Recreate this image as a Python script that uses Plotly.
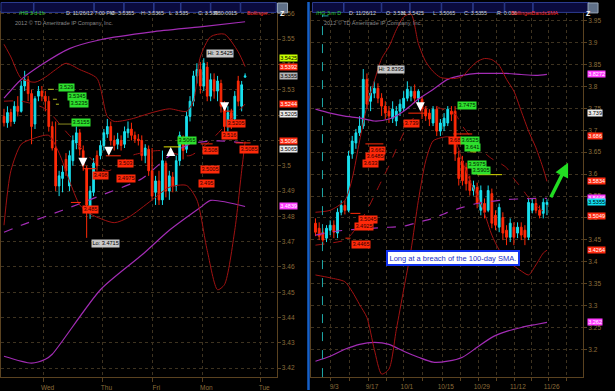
import plotly.graph_objects as go

W, H = 615, 391

# ---------------- data: left panel  (/HG 3 day, 1 hour bars) ----------------
l_open = [3.5195, 3.517, 3.521, 3.5175, 3.5235, 3.5215, 3.5315, 3.534, 3.5285, 3.5165,
          3.5275, 3.5295, 3.5275, 3.5255, 3.5155, 3.507, 3.492, 3.495, 3.5025, 3.492,
          3.502, 3.509, 3.513, 3.506, 3.499, 3.4825, 3.4895, 3.504, 3.504, 3.508,
          3.5125, 3.5155, 3.510, 3.5085, 3.510, 3.5085, 3.513, 3.5145, 3.512, 3.5105,
          3.510, 3.504, 3.5065, 3.498, 3.4895, 3.494, 3.4865, 3.501, 3.490, 3.4955,
          3.492, 3.502, 3.510, 3.5065, 3.5195, 3.5255, 3.5355, 3.538, 3.5315, 3.539,
          3.5275, 3.534, 3.5295, 3.5325, 3.5235, 3.5155, 3.521, 3.5185, 3.5335, 3.5235,
          3.535]
l_high = [3.5225, 3.5235, 3.5225, 3.5255, 3.5275, 3.5335, 3.5375, 3.5355, 3.530, 3.5275,
          3.5315, 3.5315, 3.5295, 3.5275, 3.5175, 3.5175, 3.498, 3.500, 3.505, 3.506,
          3.512, 3.5155, 3.5145, 3.508, 3.500, 3.492, 3.503, 3.506, 3.510, 3.5145,
          3.5185, 3.5175, 3.512, 3.513, 3.512, 3.5155, 3.5175, 3.517, 3.5135, 3.5125,
          3.512, 3.5085, 3.508, 3.507, 3.496, 3.498, 3.506, 3.502, 3.498, 3.4975,
          3.504, 3.5135, 3.512, 3.5215, 3.5275, 3.5375, 3.5405, 3.541, 3.5425, 3.541,
          3.5365, 3.5365, 3.5355, 3.534, 3.5255, 3.5235, 3.5225, 3.5295, 3.5355, 3.5335,
          3.5365]
l_low = [3.5155, 3.515, 3.5155, 3.5165, 3.5195, 3.521, 3.5295, 3.5255, 3.5085, 3.5145,
         3.5255, 3.5255, 3.5215, 3.5135, 3.506, 3.490, 3.488, 3.4895, 3.496, 3.490,
         3.500, 3.5065, 3.504, 3.498, 3.4715, 3.479, 3.488, 3.498, 3.5025, 3.506,
         3.511, 3.508, 3.506, 3.5065, 3.506, 3.507, 3.511, 3.510, 3.509, 3.508,
         3.502, 3.501, 3.496, 3.4865, 3.4845, 3.4845, 3.4845, 3.4875, 3.4865, 3.4895,
         3.490, 3.500, 3.5025, 3.505, 3.5175, 3.5235, 3.5325, 3.5285, 3.5295, 3.5255,
         3.5255, 3.5265, 3.5255, 3.521, 3.512, 3.5135, 3.5145, 3.517, 3.5235, 3.5215,
         3.535]
l_close = [3.517, 3.521, 3.5175, 3.5235, 3.5215, 3.5315, 3.534, 3.5285, 3.5155, 3.5265,
           3.5295, 3.5275, 3.5255, 3.5155, 3.507, 3.492, 3.496, 3.4975, 3.498, 3.504,
           3.510, 3.513, 3.5065, 3.500, 3.4845, 3.490, 3.501, 3.500, 3.508, 3.513,
           3.5155, 3.510, 3.508, 3.5105, 3.508, 3.5135, 3.5145, 3.512, 3.5105, 3.510,
           3.504, 3.507, 3.498, 3.488, 3.494, 3.4865, 3.502, 3.490, 3.496, 3.492,
           3.502, 3.512, 3.506, 3.5195, 3.5255, 3.5355, 3.538, 3.5315, 3.5405, 3.5275,
           3.534, 3.5295, 3.5335, 3.5235, 3.5155, 3.521, 3.5175, 3.5275, 3.5255, 3.532,
           3.5355]
l_bar = list(range(len(l_open)))

l_bb_up_x = [0, 2, 5, 9, 12, 15, 18, 22, 27, 30, 32, 37, 43, 48, 53, 55, 57, 60, 64, 68, 70]
l_bb_up = [3.548, 3.543, 3.5345, 3.533, 3.535, 3.538, 3.5405, 3.538, 3.5345, 3.5195, 3.5175,
           3.5185, 3.521, 3.5225, 3.5215, 3.5255, 3.543, 3.551, 3.552, 3.545, 3.5392]
l_bb_mid_x = [0, 5, 12, 19, 30, 37, 45, 54, 60, 66, 70]
l_bb_mid = [3.5255, 3.5255, 3.5225, 3.512, 3.498, 3.504, 3.506, 3.504, 3.510, 3.5185, 3.5244]
l_bb_lo_x = [0, 2, 5, 8, 13, 16, 19, 22, 25, 32, 36, 43, 48, 53, 56, 59, 62, 64, 67, 69, 70]
l_bb_lo = [3.4765, 3.498, 3.5085, 3.5105, 3.512, 3.505, 3.494, 3.4845, 3.481, 3.4775, 3.4795,
           3.4865, 3.4915, 3.4922, 3.4865, 3.4665, 3.451, 3.453, 3.4745, 3.498, 3.5096]
l_pb_up_x = [0, 5, 11, 19, 28, 43, 57, 70]
l_pb_up = [3.5267, 3.5341, 3.540, 3.5463, 3.5498, 3.5529, 3.5549, 3.5569]
l_pb_mid_x = [0, 5, 17, 28, 40, 48, 54, 62, 70]
l_pb_mid = [3.4737, 3.4765, 3.4824, 3.4882, 3.4949, 3.5039, 3.5086, 3.5098, 3.509]
l_pb_lo_x = [0, 8, 12, 14, 28, 40, 48, 57, 60, 70]
l_pb_lo = [3.4247, 3.422, 3.4235, 3.4255, 3.451, 3.4647, 3.4745, 3.4835, 3.4863, 3.4839]

l_day_grid = [11.6, 28.7, 43.2, 57.7, 74.5]
l_day_labels = ["Wed", "Thu", "Fri", "Mon", "Tue"]
l_price_ticks = [3.42, 3.43, 3.44, 3.45, 3.46, 3.47, 3.48, 3.49, 3.5, 3.51, 3.52, 3.53,
                 3.54, 3.55, 3.56]
l_axis_tags = [3.5425, 3.5392, 3.5355, 3.5244, 3.5205, 3.5096, 3.5065, 3.4839]
l_axis_kind = ["lime", "red", "grey", "red", "white", "red", "white", "magenta"]

# ---------------- data: right panel  (/HG 3 month, daily bars) ----------------
r_open = [3.488, 3.4765, 3.4675, 3.454, 3.472, 3.4835, 3.4655, 3.513, 3.5285, 3.5175,
          3.646, 3.671, 3.694, 3.7095, 3.816, 3.766, 3.7845, 3.7955, 3.773, 3.755,
          3.7435, 3.7275, 3.721, 3.7435, 3.7505, 3.773, 3.7775, 3.789, 3.773, 3.7705,
          3.748, 3.739, 3.7165, 3.748, 3.698, 3.7095, 3.7165, 3.7435, 3.7435, 3.637,
          3.630, 3.6145, 3.585, 3.5625, 3.5695, 3.5175, 3.533, 3.5175, 3.5555, 3.506,
          3.479, 3.501, 3.472, 3.456, 3.479, 3.4655, 3.479, 3.472, 3.456, 3.5175,
          3.533, 3.5175, 3.5105, 3.531]
r_high = [3.499, 3.490, 3.4765, 3.4835, 3.4945, 3.4945, 3.522, 3.540, 3.540, 3.653,
          3.687, 3.703, 3.732, 3.8395, 3.8295, 3.800, 3.8115, 3.807, 3.7845, 3.766,
          3.755, 3.766, 3.755, 3.7705, 3.789, 3.8115, 3.800, 3.8045, 3.7935, 3.7775,
          3.755, 3.748, 3.755, 3.755, 3.7255, 3.739, 3.755, 3.755, 3.755, 3.653,
          3.6415, 3.626, 3.5965, 3.585, 3.5805, 3.574, 3.5445, 3.574, 3.567, 3.5175,
          3.533, 3.513, 3.4835, 3.499, 3.490, 3.490, 3.490, 3.4835, 3.5445, 3.5445,
          3.5445, 3.5285, 3.5445, 3.5425]
r_low = [3.4585, 3.4495, 3.438, 3.445, 3.461, 3.454, 3.454, 3.506, 3.508, 3.513,
         3.635, 3.6575, 3.687, 3.703, 3.748, 3.7435, 3.773, 3.7615, 3.7325, 3.7255,
         3.7165, 3.7165, 3.7095, 3.7325, 3.7435, 3.766, 3.766, 3.7615, 3.755, 3.7255,
         3.721, 3.7095, 3.7095, 3.687, 3.687, 3.698, 3.7095, 3.721, 3.630, 3.574,
         3.574, 3.5625, 3.551, 3.551, 3.522, 3.506, 3.499, 3.513, 3.4765, 3.472,
         3.4675, 3.4495, 3.438, 3.445, 3.438, 3.454, 3.4495, 3.438, 3.4495, 3.5105,
         3.5105, 3.499, 3.499, 3.5065]
r_close = [3.4675, 3.4585, 3.4495, 3.4765, 3.4835, 3.4675, 3.513, 3.5285, 3.5175, 3.6415,
           3.6755, 3.694, 3.7095, 3.816, 3.7595, 3.7845, 3.7955, 3.773, 3.755, 3.739,
           3.7325, 3.748, 3.7435, 3.7595, 3.773, 3.7935, 3.789, 3.773, 3.789, 3.748,
           3.7325, 3.7255, 3.748, 3.698, 3.7165, 3.7275, 3.748, 3.7365, 3.646, 3.590,
           3.585, 3.578, 3.5625, 3.574, 3.533, 3.5625, 3.513, 3.5625, 3.488, 3.4835,
           3.524, 3.4655, 3.456, 3.488, 3.456, 3.479, 3.461, 3.456, 3.5355, 3.533,
           3.5175, 3.506, 3.5355, 3.5355]
r_bar = list(range(len(r_open)))

r_bb_x = [0, 4, 8, 10, 12, 14, 16, 18, 20, 22, 24, 26, 28, 30, 32, 34, 36, 38, 40, 42,
          44, 46, 48, 50, 52, 54, 56, 58, 60, 62, 63]
r_bb_up = [3.513, 3.5175, 3.540, 3.590, 3.6755, 3.755, 3.8115, 3.8635, 3.8905, 3.929,
           3.9585, 3.965, 3.8975, 3.8565, 3.834, 3.8205, 3.818, 3.818, 3.8225, 3.841,
           3.8565, 3.8635, 3.861, 3.8475, 3.816, 3.789, 3.7435, 3.698, 3.66, 3.612, 3.5834]
r_bb_mid = [3.438, 3.4425, 3.4495, 3.465, 3.490, 3.517, 3.551, 3.585, 3.619, 3.6575,
            3.694, 3.721, 3.739, 3.7525, 3.757, 3.750, 3.7435, 3.737, 3.7095, 3.687,
            3.6645, 3.6485, 3.635, 3.626, 3.6145, 3.5895, 3.569, 3.5465, 3.5285, 3.515, 3.5049]
r_bb_lo = [3.370, 3.3635, 3.3545, 3.332, 3.3025, 3.273, 3.2005, 3.144, 3.1555, 3.2455,
           3.3365, 3.4268, 3.540, 3.630, 3.6755, 3.6825, 3.685, 3.6755, 3.630, 3.585,
           3.551, 3.5105, 3.461, 3.427, 3.404, 3.3905, 3.379, 3.370, 3.393, 3.420, 3.4264]
r_pb_x = [0, 4, 8, 12, 16, 20, 24, 28, 32, 36, 40, 44, 48, 52, 56, 60, 63]
r_pb_up = [3.748, 3.739, 3.732, 3.728, 3.721, 3.7255, 3.7435, 3.771, 3.793, 3.816,
           3.825, 3.8295, 3.8295, 3.8295, 3.827, 3.825, 3.8272]
r_pb_mid = [3.4608, 3.4675, 3.4721, 3.4743, 3.4766, 3.4788, 3.4811, 3.4902, 3.4992, 3.5128,
            3.524, 3.533, 3.5377, 3.5422, 3.5434, 3.5446, 3.5446]
r_pb_lo = [3.1734, 3.1847, 3.2005, 3.2119, 3.2164, 3.2119, 3.196, 3.1824, 3.1711, 3.1734,
           3.1824, 3.2051, 3.2277, 3.2413, 3.2503, 3.2571, 3.262]

r_week_grid = [4.1, 14.4, 23.9, 34.5, 44.3, 54.1, 63.3]
r_week_labels = ["9/3", "9/17", "10/1", "10/15", "10/29", "11/12", "11/26"]
r_minor_grid = [9.2, 19.2, 29.2, 39.4, 49.2, 58.7, 68.3]
r_price_ticks = [3.2, 3.25, 3.3, 3.35, 3.4, 3.45, 3.5, 3.55, 3.6, 3.65, 3.7, 3.75, 3.8,
                 3.85, 3.9, 3.95]
r_axis_tags = [3.8272, 3.739, 3.686, 3.5834, 3.5446, 3.5355, 3.5049, 3.4264, 3.262]
r_axis_kind = ["magenta", "white", "red", "red", "magenta", "cyan", "red", "red", "magenta"]

left_header = ["/HG 3 d 1h", "D: 11/26/12 7:00 PM", "O: 3.5355", "H: 3.5365", "L: 3.535",
               "C: 3.5355", "R: 0.0015", "Bollinger.."]
right_header = ["/HG 3 m D", "D: 11/26/12", "O: 3.531", "H: 3.5425", "L: 3.5065",
                "C: 3.5355", "R: 0.036", "BollingerBandsSMA"]

# ---------------- styling ----------------
FONT = "Liberation Sans, Arial, sans-serif"
FRAME = "#5a4220"
GRID = "#3e3320"
TICK = "#8c6d3a"
UP = "#18e0ee"
DOWN = "#ff2a08"
BB_RED = "#a01212"
PURPLE = "#a22cb4"
TAGBG = {"lime": "#c8ff00", "red": "#ff2a10", "grey": "#b4b4b4", "white": "#ececec",
         "magenta": "#ff3cff", "cyan": "#10e0f0"}
TAGFG = {"lime": "#000000", "red": "#ffffff", "grey": "#000000", "white": "#000000",
         "magenta": "#ffffff", "cyan": "#000000"}
NB = "\u00a0"


def fx(px):
    return px / W


def fy(py):
    return 1 - py / H


# layout geometry (pixels)
L_LEFT, L_RIGHT = 0, 276
R_LEFT, R_RIGHT = 311, 583
P_TOP, P_BOT = 10, 378
L_X0, L_DX = 3.0, 3.45
R_X0, R_DX = 315.0, 3.68
L_V0, L_Y0, L_K = 3.56, 12.0, 2550.0
R_V0, R_Y0, R_K = 3.8272, 73.0, 442.0

fig = go.Figure()


def band(x, y, color, dash, xa, ya, width=1):
    fig.add_trace(go.Scatter(x=x, y=y, mode="lines", xaxis=xa, yaxis=ya, hoverinfo="skip",
                             line=dict(color=color, width=width, dash=dash,
                                       shape="spline", smoothing=0.7)))


band(l_pb_up_x, l_pb_up, PURPLE, "solid", "x", "y", 1.2)
band(l_pb_mid_x, l_pb_mid, PURPLE, "dash", "x", "y", 1.2)
band(l_pb_lo_x, l_pb_lo, PURPLE, "solid", "x", "y", 1.2)
band(l_bb_up_x, l_bb_up, BB_RED, "solid", "x", "y")
band(l_bb_mid_x, l_bb_mid, BB_RED, "dash", "x", "y")
band(l_bb_lo_x, l_bb_lo, BB_RED, "solid", "x", "y")

band(r_pb_x, r_pb_up, PURPLE, "solid", "x2", "y2", 1.2)
band(r_pb_x, r_pb_mid, PURPLE, "dash", "x2", "y2", 1.2)
band(r_pb_x, r_pb_lo, PURPLE, "solid", "x2", "y2", 1.2)
band(r_bb_x, r_bb_up, BB_RED, "solid", "x2", "y2")
band(r_bb_x, r_bb_mid, BB_RED, "dash", "x2", "y2")
band(r_bb_x, r_bb_lo, BB_RED, "solid", "x2", "y2")

for (xv, o, h, l, c, xa, ya) in [(l_bar, l_open, l_high, l_low, l_close, "x", "y"),
                                 (r_bar, r_open, r_high, r_low, r_close, "x2", "y2")]:
    fig.add_trace(go.Candlestick(
        x=xv, open=o, high=h, low=l, close=c, xaxis=xa, yaxis=ya, hoverinfo="skip",
        whiskerwidth=0,
        increasing=dict(line=dict(color=UP, width=1), fillcolor=UP),
        decreasing=dict(line=dict(color=DOWN, width=1), fillcolor=DOWN)))

shapes = []
annotations = []

# separator between panels
shapes.append(dict(type="line", xref="paper", yref="paper", x0=fx(308), x1=fx(308), y0=0, y1=1,
                   line=dict(color="#1660c8", width=2.5)))
# cyan dashed event marker (right panel)
shapes.append(dict(type="line", xref="paper", yref="paper", x0=fx(322), x1=fx(322),
                   y0=fy(P_BOT), y1=fy(13), line=dict(color="#1ea8a8", width=1, dash="dash")))
shapes.append(dict(type="line", xref="paper", yref="paper", x0=fx(322), x1=fx(328),
                   y0=fy(14), y1=fy(14), line=dict(color="#1ea8a8", width=1)))


def header(items, start, cw, pad, colors):
    x = start
    for t, col in zip(items, colors):
        w = len(t) * cw + pad
        shapes.append(dict(type="rect", xref="paper", yref="paper", x0=fx(x), x1=fx(x + w),
                           y0=fy(10.5), y1=fy(0.5), fillcolor="#0b0b3e",
                           line=dict(color="#2c3c90", width=1)))
        annotations.append(dict(x=fx(x + w / 2), y=fy(5.8), xref="paper", yref="paper", text=t,
                                showarrow=False, font=dict(size=5.3, color=col, family=FONT)))
        x += w + 0.5


hcols = ["#2fd02f"] + ["#cfcfcf"] * 6 + ["#ff2c2c"]
header(left_header, 0, 3.05, 2, hcols)
header(right_header, 312, 3.12, 3, hcols)

for zx in (277, 588):
    shapes.append(dict(type="rect", xref="paper", yref="paper", x0=fx(zx), x1=fx(zx + 10),
                       y0=fy(11), y1=fy(1), fillcolor="#5f7088", line=dict(color="#9aa8b8", width=1)))
    annotations.append(dict(x=fx(zx + 5), y=fy(6), xref="paper", yref="paper", text="<b>Z</b>",
                            showarrow=False, font=dict(size=7, color="#ffffff", family=FONT)))

for cx in (12, 322):
    annotations.append(dict(x=fx(cx), y=fy(16), xref="paper", yref="paper", xanchor="left",
                            text="2012 © TD Ameritrade IP Company, Inc.", showarrow=False,
                            font=dict(size=5.5, color="#8a8a8a", family=FONT)))

# price tags on the axes
for v, k in zip(l_axis_tags, l_axis_kind):
    annotations.append(dict(x=fx(278), y=v, xref="paper", yref="y", xanchor="left", text=f"{v:g}",
                            showarrow=False, bgcolor=TAGBG[k], borderpad=0.2,
                            font=dict(size=5.5, color=TAGFG[k], family=FONT)))
for v, k in zip(r_axis_tags, r_axis_kind):
    annotations.append(dict(x=fx(587), y=v, xref="paper", yref="y2", xanchor="left", text=f"{v:g}",
                            showarrow=False, bgcolor=TAGBG[k], borderpad=0.2,
                            font=dict(size=5.5, color=TAGFG[k], family=FONT)))


def tag(px, py, text, kind):
    bg = {"g": "#2ee02e", "r": "#ff2a0a", "h": "#c8c8c8"}[kind]
    fg = {"g": "#002000", "r": "#300000", "h": "#000000"}[kind]
    annotations.append(dict(x=fx(px), y=fy(py), xref="paper", yref="paper", text=text,
                            showarrow=False, bgcolor=bg, borderpad=0.4,
                            font=dict(size=5.6, color=fg, family=FONT)))


def seg(x0, x1, py, color):
    shapes.append(dict(type="line", xref="paper", yref="paper", x0=fx(x0), x1=fx(x1),
                       y0=fy(py), y1=fy(py), line=dict(color=color, width=1)))


# small level markers next to the signal tags
for (x0, x1, py, col) in [(47, 53, 88, "#b8c020"), (52, 56, 98, "#b8c020"), (55, 58, 103, "#b8c020"),
                          (57, 71, 123, "#8a8a20"), (163, 180, 146, "#e0e000"),
                          (82, 95, 168, DOWN), (70, 80, 202, DOWN), (105, 120, 155, DOWN),
                          (200, 212, 143, DOWN), (235, 250, 142, DOWN), (222, 233, 110, DOWN),
                          (365, 383, 143, DOWN), (408, 427, 112, DOWN), (350, 360, 213, DOWN),
                          (345, 350, 238, DOWN), (453, 472, 133, DOWN),
                          (465, 472, 107, "#d8d800"), (470, 476, 151, "#d8d800"),
                          (477, 502, 174, "#d8d800")]:
    seg(x0, x1, py, col)

for (px, py, t, k) in [(57.5, 82, "3.529", "g"), (66, 91, "3.5345", "g"), (68, 97.5, "3.5235", "g"),
                       (70.5, 117, "3.5155", "g"), (176.5, 140, "3.5065", "g"),
                       (116.5, 162.5, "3.503", "r"), (91, 175, "3.498", "r"), (115, 177.5, "3.4975", "r"),
                       (81.5, 209, "3.485", "r"), (235.5, 118, "3.5205", "r"), (229, 129.5, "3.516", "r"),
                       (209.5, 150, "3.508", "r"), (248, 149, "3.5085", "r"), (209.5, 169, "3.5005", "r"),
                       (205.5, 182.5, "3.495", "r"),
                       (219, 47, "Hi: 3.5425", "h"), (90, 243, "Lo: 3.4715", "h"),
                       (390.5, 63, "Hi: 3.8395", "h"),
                       (377, 149.5, "3.662", "r"), (375, 156, "3.6485", "r"), (370, 163, "3.633", "r"),
                       (367.5, 219, "3.5045", "r"), (363.5, 226, "3.4925", "r"),
                       (361, 244.5, "3.4465", "r"), (420, 118, "3.739", "r"), (461.5, 140, "3.68", "r"),
                       (476.5, 100, "3.7475", "g"), (479.5, 140, "3.6525", "g"),
                       (481, 146.5, "3.641", "g"), (487, 163.5, "3.5975", "g"), (490.5, 169.5, "3.5905", "g")]:
    tag(px, py, t, k)

# white signal arrows
for (px, py, up) in [(82, 166, False), (108, 155, False), (224, 110, False), (170, 146, True),
                     (420, 110, False)]:
    annotations.append(dict(x=fx(px), y=fy(py), xref="paper", yref="paper", text="", showarrow=True,
                            ax=0, ay=(9 if up else -9), arrowhead=2, arrowsize=0.9, arrowwidth=2,
                            arrowcolor="#ffffff"))

# green arrow + note
annotations.append(dict(x=fx(568), y=fy(162), xref="paper", yref="paper", text="", showarrow=True,
                        ax=-18, ay=36, arrowhead=2, arrowsize=0.8, arrowwidth=3.5,
                        arrowcolor="#22dd22"))
annotations.append(dict(x=fx(520), y=fy(266.5), xref="paper", yref="paper",
                        text="Long at a breach of the 100-day SMA.", showarrow=False,
                        bgcolor="#ffffff", bordercolor="#1434f0", borderwidth=2, borderpad=1.5,
                        font=dict(size=7.5, color="#1a30c8", family=FONT)))

axis_common = dict(showline=True, linecolor=FRAME, linewidth=1, mirror=True, zeroline=False,
                   fixedrange=True, tickcolor=FRAME, tickfont=dict(size=6.5, color=TICK, family=FONT),
                   gridcolor=GRID, griddash="dot", gridwidth=1)

ydom = [fy(P_BOT), fy(P_TOP)]
fig.update_layout(
    width=W, height=H, margin=dict(l=0, r=0, t=0, b=0),
    paper_bgcolor="#000000", plot_bgcolor="#000000", showlegend=False, hovermode=False,
    xaxis=dict(domain=[fx(L_LEFT), fx(L_RIGHT)], anchor="y",
               range=[(L_LEFT - L_X0) / L_DX, (L_RIGHT - L_X0) / L_DX],
               tickmode="array", tickvals=l_day_grid, ticktext=[NB * 4 + t for t in l_day_labels],
               showgrid=True, ticks="outside", ticklen=4, rangeslider=dict(visible=False),
               **axis_common),
    yaxis=dict(domain=ydom, anchor="x", side="right",
               range=[L_V0 - (P_BOT - L_Y0) / L_K, L_V0 + (L_Y0 - P_TOP) / L_K],
               tickmode="array", tickvals=l_price_ticks, ticktext=[f"{v:g}" for v in l_price_ticks],
               showgrid=True, ticks="outside", ticklen=3, **axis_common),
    xaxis2=dict(domain=[fx(R_LEFT), fx(R_RIGHT)], anchor="y2",
                range=[(R_LEFT - R_X0) / R_DX, (R_RIGHT - R_X0) / R_DX],
                tickmode="array", tickvals=r_week_grid, ticktext=[NB * 4 + t for t in r_week_labels],
                showgrid=True, ticks="outside", ticklen=3, rangeslider=dict(visible=False),
                minor=dict(tickmode="array", tickvals=r_minor_grid, showgrid=True, gridcolor=GRID,
                           griddash="dot", ticks="outside", ticklen=3, tickcolor=FRAME),
                **axis_common),
    yaxis2=dict(domain=ydom, anchor="x2", side="right",
                range=[R_V0 - (P_BOT - R_Y0) / R_K, R_V0 + (R_Y0 - P_TOP) / R_K],
                tickmode="array", tickvals=r_price_ticks, ticktext=[f"{v:g}" for v in r_price_ticks],
                showgrid=True, ticks="outside", ticklen=3, **axis_common),
    shapes=shapes, annotations=annotations,
)

fig.write_html("out.html")
